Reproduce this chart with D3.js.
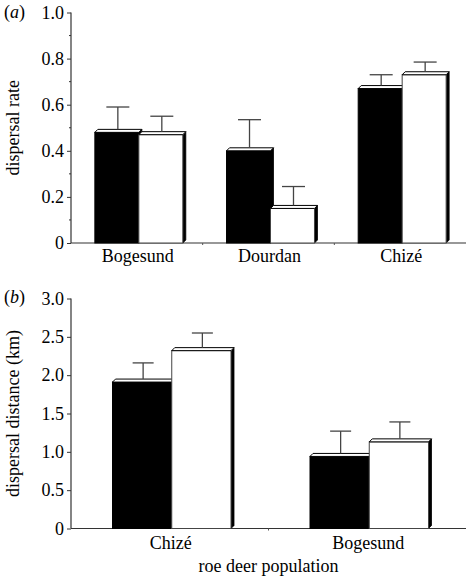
<!DOCTYPE html>
<html>
<head>
<meta charset="utf-8">
<script src="https://cdn.jsdelivr.net/npm/d3@7"></script>
<style>
  html, body { margin: 0; padding: 0; background: #fff; }
  svg, svg text { font-family: "Liberation Serif", "Times New Roman", Times, serif; fill: #000; }
</style>
</head>
<body>
<svg id="chart" width="468" height="576"></svg>
<script>
// ---- data ----
const seriesNames = ["black", "white"];

const catsA = ["Bogesund", "Dourdan", "Chizé"];
const blackA = [0.48, 0.40, 0.67];
const whiteA = [0.47, 0.15, 0.73];
const blackAErr = [0.11, 0.135, 0.06];
const whiteAErr = [0.08, 0.095, 0.055];
const ticksA = [0, 0.2, 0.4, 0.6, 0.8, 1.0];
const tickLabelsA = ["0", "0.2", "0.4", "0.6", "0.8", "1.0"];
const minorTicksA = [0.1, 0.3, 0.5, 0.7, 0.9];

const catsB = ["Chizé", "Bogesund"];
const blackB = [1.91, 0.94];
const whiteB = [2.32, 1.13];
const blackBErr = [0.25, 0.33];
const whiteBErr = [0.23, 0.26];
const ticksB = [0, 0.5, 1.0, 1.5, 2.0, 2.5, 3.0];
const tickLabelsB = ["0", "0.5", "1.0", "1.5", "2.0", "2.5", "3.0"];

const svg = d3.select("#chart");
const FS = 18;
const FONT = '"Liberation Serif", "Times New Roman", Times, serif';
const depth = 3;

function panel(opts) {
  const g = svg.append("g");
  const x = d3.scaleBand().domain(opts.cats).range([opts.x0, opts.x1]).paddingInner(0).paddingOuter(0);
  const y = d3.scaleLinear().domain(opts.domain).range([opts.yBase, opts.yTop]);
  const groupW = x.bandwidth() * opts.groupFrac;
  const xs = d3.scaleBand().domain(seriesNames).range([0, groupW]).padding(0);

  // y axis
  const yAxis = d3.axisLeft(y).tickValues(opts.ticks).tickSize(4).tickPadding(3)
    .tickFormat((d, i) => opts.tickLabels[i]);
  const ya = g.append("g").attr("transform", `translate(${opts.x0},0)`).call(yAxis)
    .attr("font-family", null).attr("font-size", null);
  ya.select(".domain").attr("stroke", "#333").attr("stroke-width", 1.2).attr("d", `M0,${opts.yTop}V${opts.yBase}`);
  ya.selectAll(".tick line").attr("stroke", "#333");
  ya.selectAll(".tick text").style("font-size", FS + "px").style("font-family", FONT);
  if (opts.minor) {
    g.append("g").selectAll("line").data(opts.minor).join("line")
      .attr("x1", opts.x0 - 2).attr("x2", opts.x0)
      .attr("y1", d => y(d)).attr("y2", d => y(d))
      .attr("stroke", "#333");
  }

  // x axis
  const xAxis = d3.axisBottom(x).tickSize(0).tickPadding(0);
  const xa = g.append("g").attr("transform", `translate(0,${opts.yBase})`).call(xAxis)
    .attr("font-family", null).attr("font-size", null);
  xa.select(".domain").attr("stroke", "#333").attr("stroke-width", 1.2).attr("d", `M${opts.x0},0H${opts.x1}`);
  xa.selectAll(".tick text").style("font-size", FS + "px").style("font-family", FONT)
    .attr("dy", null).attr("y", opts.catLabelDy).attr("dx", 1);
  // separator ticks between categories
  g.append("g").selectAll("line").data(opts.cats.slice(1)).join("line")
    .attr("x1", d => x(d)).attr("x2", d => x(d))
    .attr("y1", opts.yBase).attr("y2", opts.yBase + 2)
    .attr("stroke", "#555");

  // bars
  const rows = [];
  opts.cats.forEach((c, i) => {
    rows.push({ cat: c, s: "black", v: opts.black[i], e: opts.blackErr[i] });
    rows.push({ cat: c, s: "white", v: opts.white[i], e: opts.whiteErr[i] });
  });
  const gx = c => x(c) + x.bandwidth() / 2 - groupW / 2 + 2;

  rows.forEach(r => {
    const bx0 = gx(r.cat) + xs(r.s);
    const bx1 = bx0 + xs.bandwidth();
    const yt = y(r.v);
    const yb = y(0);
    const fill = r.s === "black" ? "#000" : "#fff";
    // right side face
    g.append("path")
      .attr("d", `M${bx1},${yt}L${bx1 + depth},${yt - depth}L${bx1 + depth},${yb - depth}L${bx1},${yb}Z`)
      .attr("fill", "#000").attr("stroke", "#000").attr("stroke-width", 0.8);
    // front face
    g.append("rect")
      .attr("x", bx0).attr("y", yt).attr("width", xs.bandwidth()).attr("height", yb - yt)
      .attr("fill", fill).attr("stroke", r.s === "black" ? "#000" : "#444").attr("stroke-width", 1);
    // top face
    g.append("path")
      .attr("d", `M${bx0},${yt}L${bx0 + depth},${yt - depth}L${bx1 + depth},${yt - depth}L${bx1},${yt}Z`)
      .attr("fill", "#fff").attr("stroke", "#000").attr("stroke-width", 1);
    // error bar
    const cx = (bx0 + bx1) / 2 + 1;
    const ye = y(r.v + r.e);
    g.append("line").attr("x1", cx).attr("x2", cx).attr("y1", yt - depth).attr("y2", ye)
      .attr("stroke", "#444").attr("stroke-width", 1.3);
    g.append("line").attr("x1", cx - opts.cap / 2).attr("x2", cx + opts.cap / 2).attr("y1", ye).attr("y2", ye)
      .attr("stroke", "#444").attr("stroke-width", 1.3);
  });

  // y label
  g.append("text")
    .attr("transform", `translate(${opts.yLabelX},${(opts.yTop + opts.yBase) / 2}) rotate(-90)`)
    .attr("text-anchor", "middle").style("font-size", FS + "px").style("font-family", FONT)
    .text(opts.yLabel);

  // panel letter
  const pl = g.append("text").attr("x", 4).attr("y", opts.letterY)
    .style("font-size", FS + "px").style("font-family", FONT);
  pl.append("tspan").text("(");
  pl.append("tspan").attr("font-style", "italic").text(opts.letter);
  pl.append("tspan").text(")");
  return { x, y };
}

panel({
  cats: catsA, black: blackA, white: whiteA, blackErr: blackAErr, whiteErr: whiteAErr,
  domain: [0, 1], ticks: ticksA, tickLabels: tickLabelsA, minor: minorTicksA,
  x0: 71, x1: 466, yBase: 243, yTop: 12.5, groupFrac: 0.668, cap: 23,
  catLabelDy: 19, yLabel: "dispersal rate", yLabelX: 19, letter: "a", letterY: 18
});

panel({
  cats: catsB, black: blackB, white: whiteB, blackErr: blackBErr, whiteErr: whiteBErr,
  domain: [0, 3], ticks: ticksB, tickLabels: tickLabelsB, minor: null,
  x0: 71, x1: 466, yBase: 528.5, yTop: 298.5, groupFrac: 0.6, cap: 21,
  catLabelDy: 20, yLabel: "dispersal distance (km)", yLabelX: 19, letter: "b", letterY: 303
});

svg.append("text").attr("x", 268.5).attr("y", 572).attr("text-anchor", "middle")
  .style("font-size", FS + "px").style("font-family", FONT).text("roe deer population");
</script>
</body>
</html>
